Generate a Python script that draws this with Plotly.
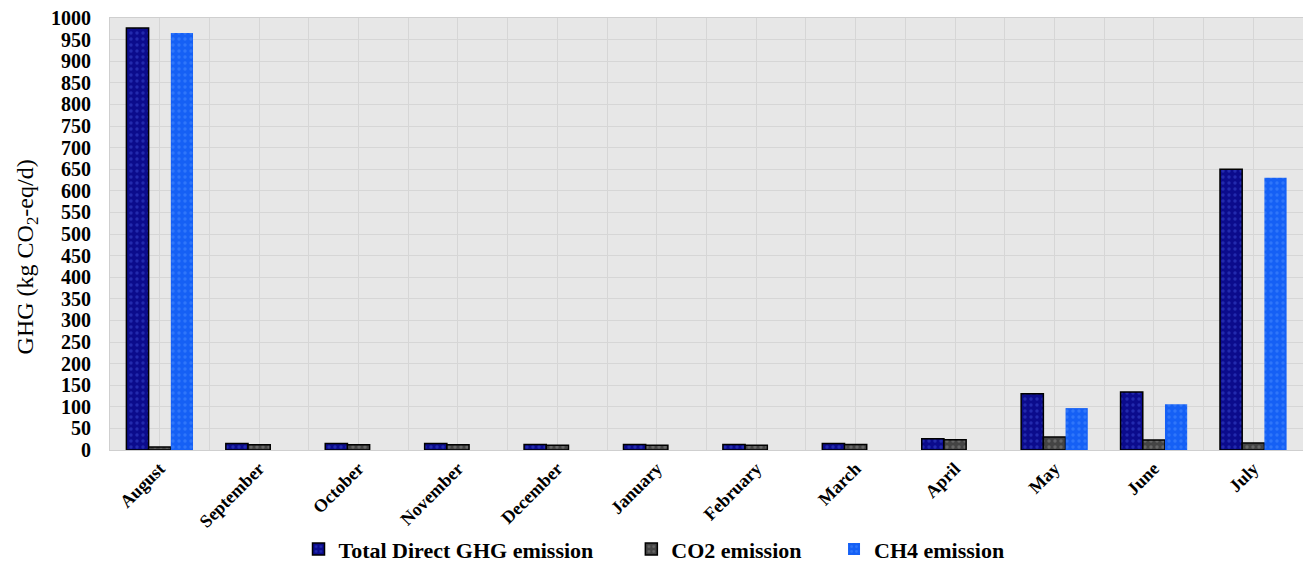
import plotly.graph_objects as go

months = ["August", "September", "October", "November", "December", "January",
          "February", "March", "April", "May", "June", "July"]
total_ghg = [977, 15, 15, 15, 13, 13, 13, 15, 26, 130, 134, 650]
co2 = [7, 12, 12, 12, 11, 11, 11, 13, 24, 30, 23, 16]
ch4 = [965, 0, 0, 0, 0, 0, 0, 0, 0, 97, 106, 630]

x = list(range(len(months)))
serif = "Liberation Serif, Times New Roman, serif"

fig = go.Figure()
fig.add_trace(go.Bar(
    x=x, y=total_ghg, name="<b>Total Direct GHG emission</b>" + "&nbsp;" * 6,
    marker=dict(color="#0b0b8c", line=dict(color="#000000", width=1.5),
                pattern=dict(shape=".", fgcolor="#3a4ad0", size=6, solidity=0.25)),
))
fig.add_trace(go.Bar(
    x=x, y=co2, name="<b>CO2 emission</b>" + "&nbsp;" * 5,
    marker=dict(color="#444444", line=dict(color="#000000", width=1.5),
                pattern=dict(shape=".", fgcolor="#8a8a8a", size=6, solidity=0.25)),
))
fig.add_trace(go.Bar(
    x=x, y=ch4, name="<b>CH4 emission</b>",
    marker=dict(color="#1560f5", line=dict(width=0),
                pattern=dict(shape=".", fgcolor="#4a8cff", size=6, solidity=0.25)),
))

fig.update_layout(
    width=1295, height=558,
    margin=dict(l=102, r=0, t=10, b=116),
    paper_bgcolor="white",
    plot_bgcolor="#e7e7e7",
    barmode="group", bargap=0.33, bargroupgap=0,
    font=dict(family=serif, color="#000000"),
    legend=dict(orientation="h", xref="paper", x=0.456, xanchor="center",
                yref="container", y=0.03, yanchor="middle",
                font=dict(family=serif, size=22, color="#000000"),
                traceorder="normal", itemwidth=30),
    showlegend=True,
    annotations=[dict(
        text="GHG (kg CO<sub>2</sub>-eq/d)", textangle=-90,
        xref="paper", yref="paper", x=-0.07, y=0.447,
        xanchor="center", yanchor="middle", showarrow=False,
        font=dict(family=serif, size=24, color="#000000"),
    )],
)
fig.update_xaxes(
    range=[-0.5, 11.5], automargin=False,
    tickmode="array", tickvals=x,
    ticktext=["<b>%s</b>" % m for m in months],
    tickangle=-45, tickfont=dict(family=serif, size=18),
    ticks="",
    showgrid=False, zeroline=False,
    minor=dict(dtick=0.5, tick0=-0.5, showgrid=True, gridcolor="#d6d6d6", gridwidth=1),
    showline=True, linecolor="#cfcfcf", mirror=True,
)
fig.update_yaxes(
    range=[0, 1000], dtick=50, automargin=False,
    tickfont=dict(family=serif, size=20),
    tickprefix="<b>", ticksuffix="</b>",
    ticks="outside", ticklen=14, tickcolor="rgba(0,0,0,0)",
    ticklabeloverflow="allow",
    showgrid=True, gridcolor="#d6d6d6", gridwidth=1,
    zeroline=False,
    showline=True, linecolor="#cfcfcf", mirror=True,
)

fig.write_html("out.html")
